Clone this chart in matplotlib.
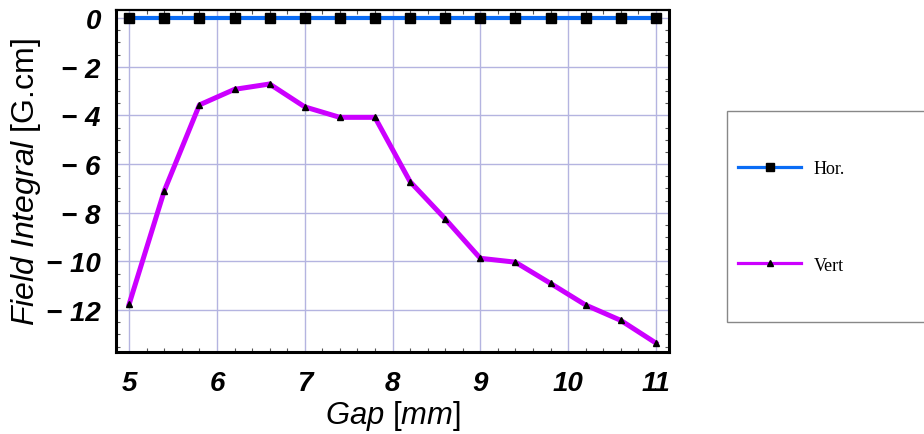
import matplotlib
matplotlib.use("Agg")
import matplotlib.pyplot as plt
from matplotlib.ticker import MultipleLocator, FuncFormatter
from matplotlib.lines import Line2D
from matplotlib.patches import Rectangle

# Gap scan (mm) and measured field integrals (G.cm)
gap = [5.0, 5.4, 5.8, 6.2, 6.6, 7.0, 7.4, 7.8, 8.2, 8.6, 9.0, 9.4, 9.8, 10.2, 10.6, 11.0]
hor = [0.0] * 16
vert = [-11.75, -7.1, -3.57, -2.93, -2.71, -3.65, -4.08, -4.08, -6.72, -8.25,
        -9.87, -10.03, -10.9, -11.79, -12.42, -13.35]
x_ticks = [5, 6, 7, 8, 9, 10, 11]
y_ticks = [0, -2, -4, -6, -8, -10, -12]

BLUE = "#0a6cf5"
MAGENTA = "#cc00ff"
GRID = "#b4b4e0"

plt.rcParams["font.family"] = ["Liberation Sans", "DejaVu Sans"]
plt.rcParams["mathtext.fontset"] = "custom"
plt.rcParams["mathtext.rm"] = "Liberation Sans"
plt.rcParams["mathtext.it"] = "Liberation Sans:italic"

fig = plt.figure(figsize=(9.24, 4.35), dpi=100)
ax = fig.add_axes([116 / 924, 82 / 435, 553 / 924, 342 / 435])

ax.plot(gap, hor, color=BLUE, lw=3.0, marker="s", ms=6.5, mfc="black",
        mec="black", zorder=4, clip_on=False)
ax.plot(gap, vert, color=MAGENTA, lw=3.6, marker="^", ms=4.2, mfc="black",
        mec="black", zorder=3)

ax.set_xlim(4.85, 11.15)
ax.set_ylim(-13.72, 0.33)
ax.set_xticks(x_ticks)
ax.set_yticks(y_ticks)
ax.yaxis.set_major_formatter(FuncFormatter(
    lambda v, p: f"\u2212 {abs(v):g}" if v < 0 else f"{v:g}"))
ax.xaxis.set_minor_locator(MultipleLocator(0.2))
ax.yaxis.set_minor_locator(MultipleLocator(0.5))
ax.grid(True, which="major", color=GRID, lw=1.0)
ax.set_axisbelow(True)

ax.tick_params(which="both", direction="in", top=True, right=True,
               labeltop=False, labelright=False)
ax.tick_params(which="major", length=0)
ax.tick_params(which="minor", length=3, width=0.8, color="#555555")
ax.tick_params(axis="x", which="major", pad=13)
ax.tick_params(axis="y", which="major", pad=11)

for lab in ax.get_xticklabels() + ax.get_yticklabels():
    lab.set_fontsize(20)
    lab.set_fontweight("bold")
    lab.set_fontstyle("italic")

for side in ["left", "bottom", "right"]:
    ax.spines[side].set_linewidth(2.2)
ax.spines["top"].set_linewidth(1.6)

ax.set_xlabel(r"$\mathit{Gap}$ [$\mathit{mm}$]", fontsize=22.3)
ax.set_ylabel(r"$\mathit{Field\ Integral}$ [G.cm]", fontsize=23)
ax.xaxis.label.set_va("bottom")
ax.yaxis.label.set_va("center")
ax.xaxis.set_label_coords(0.5, -(433 - 353) / 342)
ax.yaxis.set_label_coords(-(116 - 26.5) / 553, 0.5)

# Legend box
fig.patches.append(Rectangle((727 / 924, 1 - 323 / 435), 0.3, (323 - 112) / 435,
                             transform=fig.transFigure, facecolor="white",
                             edgecolor="#888888", lw=1.0))
handles = [
    Line2D([], [], color=BLUE, lw=2.3, marker="s", ms=6, mfc="black", mec="black"),
    Line2D([], [], color=MAGENTA, lw=2.3, marker="^", ms=4, mfc="black", mec="black"),
]
fig.legend(handles, ["Hor.", "Vert"], loc="center left",
           bbox_to_anchor=(722 / 924, 1 - 218 / 435), frameon=False,
           prop={"family": "Liberation Serif", "size": 13},
           handlelength=3.5, handletextpad=0.67, labelspacing=4.4)

fig.savefig("out.png", dpi=100)
